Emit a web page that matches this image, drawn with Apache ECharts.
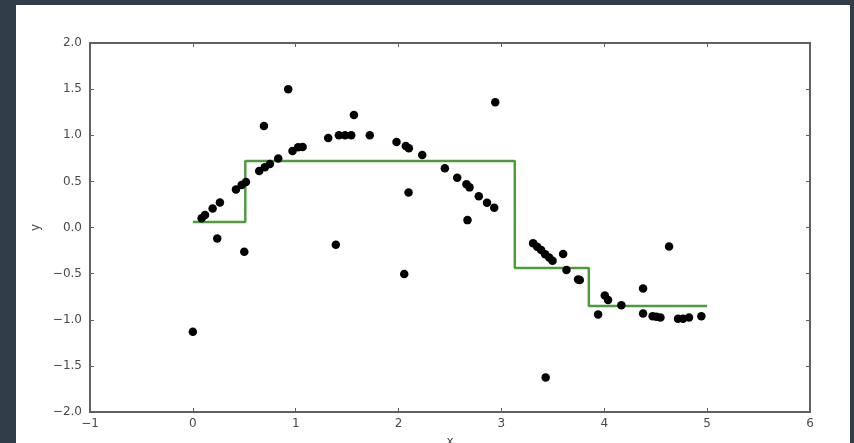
<!DOCTYPE html>
<html>
<head>
<meta charset="utf-8">
<script src="https://cdn.jsdelivr.net/npm/echarts@6/dist/echarts.min.js"></script>
<style>
html,body{margin:0;padding:0;background:#2f3e48;}
#chart{width:854px;height:443px;}
</style>
</head>
<body>
<div id="chart"></div>
<script>
// Scatter data (x, y)
var pointX = [0.00, 0.085, 0.118, 0.192, 0.237, 0.263, 0.419, 0.474, 0.500, 0.516,
  0.645, 0.700, 0.691, 0.749, 0.830, 0.927, 0.969, 1.024, 1.067, 1.316,
  1.390, 1.420, 1.480, 1.540, 1.566, 1.720, 1.980, 2.055, 2.070, 2.097,
  2.100, 2.230, 2.450, 2.570, 2.660, 2.670, 2.690, 2.780, 2.860, 2.930,
  2.940, 3.308, 3.347, 3.386, 3.425, 3.430, 3.464, 3.497, 3.600, 3.632,
  3.745, 3.762, 3.940, 4.005, 4.037, 4.166, 4.377, 4.377, 4.470, 4.507,
  4.546, 4.630, 4.717, 4.766, 4.824, 4.944];
var pointY = [-1.13, 0.099, 0.135, 0.207, -0.118, 0.272, 0.413, 0.460, -0.263, 0.492,
  0.612, 0.652, 1.100, 0.688, 0.749, 1.500, 0.829, 0.869, 0.872, 0.970,
  -0.188, 1.000, 1.000, 1.000, 1.220, 1.000, 0.926, -0.505, 0.883, 0.380,
  0.858, 0.785, 0.641, 0.539, 0.470, 0.080, 0.435, 0.340, 0.268, 0.214,
  1.357, -0.172, -0.209, -0.245, -0.289, -1.626, -0.324, -0.361, -0.288, -0.462,
  -0.563, -0.570, -0.943, -0.737, -0.787, -0.842, -0.660, -0.932, -0.961, -0.968,
  -0.975, -0.205, -0.990, -0.990, -0.975, -0.961];
// Step prediction (x where level begins, level value)
var stepX = [0.0, 0.51, 3.13, 3.85, 5.0];
var stepY = [0.06, 0.72, -0.44, -0.85, -0.85];
// Ticks
var xTicks = [-1, 0, 1, 2, 3, 4, 5, 6];
var yTicks = [-2.0, -1.5, -1.0, -0.5, 0.0, 0.5, 1.0, 1.5, 2.0];

var scatterData = pointX.map(function(x, i){ return [x, pointY[i]]; });
var stepData = stepX.map(function(x, i){ return [x, stepY[i]]; });

function fmtX(v){ return (v < 0 ? '\u2212' : '') + Math.abs(v).toFixed(0); }
function fmtY(v){ return (v < 0 ? '\u2212' : '') + Math.abs(v).toFixed(1); }

function axisCommon(){
  return {
    axisLine: {show: true, onZero: false, lineStyle: {color: '#606060', width: 2}},
    axisTick: {show: true, inside: true, length: 4, lineStyle: {color: '#606060', width: 1}},
    splitLine: {show: false}
  };
}
var labelStyle = {color: '#4a4a4a', fontSize: 12, fontFamily: 'DejaVu Sans'};

var chart = echarts.init(document.getElementById('chart'), null, {renderer: 'canvas'});
chart.setOption({
  backgroundColor: 'transparent',
  animation: false,
  graphic: [{
    type: 'rect', z: -10, silent: true,
    shape: {x: 16, y: 5, width: 834, height: 438},
    style: {fill: '#ffffff'}
  }],
  grid: {left: 90, top: 43, right: 44, bottom: 31, containLabel: false, outerBoundsMode: 'none'},
  xAxis: [
    Object.assign({
      type: 'value', min: xTicks[0], max: xTicks[xTicks.length - 1], interval: 1, position: 'bottom',
      name: 'x', nameLocation: 'middle', nameGap: 24,
      nameTextStyle: {color: '#4a4a4a', fontSize: 12, fontFamily: 'DejaVu Sans'},
      axisLabel: Object.assign({margin: 6, formatter: fmtX}, labelStyle)
    }, axisCommon()),
    Object.assign({
      type: 'value', min: xTicks[0], max: xTicks[xTicks.length - 1], interval: 1, position: 'top',
      axisLabel: {show: false}
    }, axisCommon())
  ],
  yAxis: [
    Object.assign({
      type: 'value', min: yTicks[0], max: yTicks[yTicks.length - 1], interval: 0.5, position: 'left',
      name: 'y', nameLocation: 'middle', nameGap: 42, nameRotate: 90,
      nameTextStyle: {color: '#4a4a4a', fontSize: 12, fontFamily: 'DejaVu Sans'},
      axisLabel: Object.assign({margin: 8, formatter: fmtY}, labelStyle)
    }, axisCommon()),
    Object.assign({
      type: 'value', min: yTicks[0], max: yTicks[yTicks.length - 1], interval: 0.5, position: 'right',
      axisLabel: {show: false}
    }, axisCommon())
  ],
  series: [
    {
      type: 'scatter', xAxisIndex: 0, yAxisIndex: 0,
      data: scatterData, symbol: 'circle', symbolSize: 8.5,
      itemStyle: {color: '#000000', opacity: 1},
      z: 3
    },
    {
      type: 'line', xAxisIndex: 0, yAxisIndex: 0,
      data: stepData, step: 'end', showSymbol: false, symbol: 'none',
      lineStyle: {color: '#4f9a3e', width: 2.5},
      z: 2
    }
  ]
});
</script>
</body>
</html>
